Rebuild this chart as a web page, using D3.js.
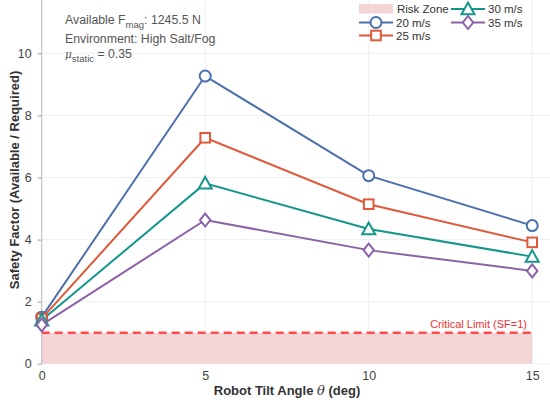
<!DOCTYPE html>
<html><head><meta charset="utf-8">
<script src="https://cdn.jsdelivr.net/npm/d3@7"></script>
<style>body{margin:0;background:#fff}svg{display:block;font-family:"Liberation Sans",Arial,sans-serif}</style>
</head><body>
<svg id="c" width="550" height="404"></svg>
<script>
const angles = [0, 5, 10, 15];
const speeds = ["20 m/s", "25 m/s", "30 m/s", "35 m/s"];
const sf20 = [1.50, 9.27, 6.06, 4.45];
const sf25 = [1.45, 7.28, 5.14, 3.91];
const sf30 = [1.40, 5.81, 4.34, 3.45];
const sf35 = [1.25, 4.63, 3.66, 2.99];
const yTicks = [0, 2, 4, 6, 8, 10];
const xTicks = [0, 5, 10, 15];
const criticalSF = 1;

const series = [
  {name: speeds[0], values: sf20, color: "#4C6FAE", marker: "circle"},
  {name: speeds[1], values: sf25, color: "#E0593B", marker: "square"},
  {name: speeds[2], values: sf30, color: "#15968A", marker: "triangle"},
  {name: speeds[3], values: sf35, color: "#8B62A8", marker: "diamond"}
];

const svg = d3.select("#c");
const x = d3.scaleLinear().domain([0, 15]).range([41.7, 532.2]);
const y = d3.scaleLinear().domain([0, 11.72]).range([363.7, 0]);
const xRight = 550;

// grid
svg.append("g").selectAll("line").data(yTicks).join("line")
  .attr("x1", x(0)).attr("x2", xRight).attr("y1", d => y(d)).attr("y2", d => y(d))
  .attr("stroke", "#ebebeb").attr("stroke-width", 0.8);
svg.append("g").selectAll("line").data(xTicks).join("line")
  .attr("x1", d => x(d)).attr("x2", d => x(d)).attr("y1", 0).attr("y2", y(0))
  .attr("stroke", "#ebebeb").attr("stroke-width", 0.8);

// risk zone
svg.append("rect").attr("x", x(0)).attr("y", y(criticalSF)).attr("width", x(15) - x(0))
  .attr("height", y(0) - y(criticalSF)).attr("fill", "#f3d5d6");

// critical line
svg.append("line").attr("x1", x(0)).attr("x2", x(15)).attr("y1", y(criticalSF)).attr("y2", y(criticalSF))
  .attr("stroke", "#ff4b4b").attr("stroke-width", 2.5).attr("stroke-dasharray", "8,5");
svg.append("text").attr("x", 527).attr("y", y(criticalSF) - 5).attr("text-anchor", "end")
  .attr("font-size", 11).attr("fill", "#ee3535").text("Critical Limit (SF=1)");

// left axis
const yAxis = d3.axisLeft(y).tickValues(yTicks).tickSize(4).tickPadding(6);
const ga = svg.append("g").attr("transform", `translate(${x(0)},0)`).call(yAxis);
ga.select(".domain").attr("stroke", "#bbb").attr("d", `M-0,0V${y(0)}`);
ga.selectAll(".tick line").attr("stroke", "#999");
ga.selectAll(".tick text").attr("font-size", 12.5).attr("fill", "#444").attr("font-family", "Liberation Sans, Arial, sans-serif");

const xAxis = d3.axisBottom(x).tickValues(xTicks).tickSize(0).tickPadding(7);
const gx = svg.append("g").attr("transform", `translate(0,${y(0)})`).call(xAxis);
gx.select(".domain").remove();
gx.selectAll(".tick text").attr("font-size", 12.5).attr("fill", "#444").attr("font-family", "Liberation Sans, Arial, sans-serif");

// axis labels
svg.append("text").attr("x", 287).attr("y", 395).attr("text-anchor", "middle")
  .attr("font-size", 13).attr("font-weight", "bold").attr("fill", "#333")
  .html('Robot Tilt Angle <tspan font-style="italic" font-weight="normal" font-family="DejaVu Serif">θ</tspan> (deg)');
svg.append("text").attr("transform", "translate(19,180) rotate(-90)").attr("text-anchor", "middle")
  .attr("font-size", 13).attr("font-weight", "bold").attr("fill", "#333")
  .text("Safety Factor (Available / Required)");

// marker drawing
function drawMarker(g, type, cx, cy, color) {
  const sw = 2;
  if (type === "circle") {
    g.append("circle").attr("cx", cx).attr("cy", cy).attr("r", 5.5)
      .attr("fill", "#fff").attr("stroke", color).attr("stroke-width", sw);
  } else if (type === "square") {
    g.append("rect").attr("x", cx - 4.8).attr("y", cy - 4.8).attr("width", 9.6).attr("height", 9.6)
      .attr("fill", "#fff").attr("stroke", color).attr("stroke-width", sw);
  } else if (type === "triangle") {
    const s = 6.5;
    g.append("path").attr("d", `M${cx},${cy - s}L${cx + s},${cy + s * 0.8}L${cx - s},${cy + s * 0.8}Z`)
      .attr("fill", "#fff").attr("stroke", color).attr("stroke-width", sw);
  } else {
    const s = 6.5;
    g.append("path").attr("d", `M${cx},${cy - s}L${cx + s * 0.8},${cy}L${cx},${cy + s}L${cx - s * 0.8},${cy}Z`)
      .attr("fill", "#fff").attr("stroke", color).attr("stroke-width", sw);
  }
}

const line = d3.line().x((d, i) => x(angles[i])).y(d => y(d));
series.forEach(s => {
  svg.append("path").attr("d", line(s.values)).attr("fill", "none")
    .attr("stroke", s.color).attr("stroke-width", 2);
});
series.forEach(s => {
  const g = svg.append("g");
  s.values.forEach((v, i) => drawMarker(g, s.marker, x(angles[i]), y(v), s.color));
});

// info text
const info = svg.append("g").attr("font-size", 12.3).attr("fill", "#555");
info.append("text").attr("x", 65).attr("y", 24)
  .html('Available F<tspan dy="4" font-size="9.5">mag</tspan><tspan dy="-4">: 1245.5 N</tspan>');
info.append("text").attr("x", 65).attr("y", 42.5).text("Environment: High Salt/Fog");
info.append("text").attr("x", 65).attr("y", 58)
  .html('<tspan font-style="italic" font-family="DejaVu Serif" font-size="10.5">μ</tspan><tspan dy="4" font-size="9.5">static</tspan><tspan dy="-4"> = 0.35</tspan>');

// legend
const leg = svg.append("g").attr("font-size", 11.5).attr("fill", "#333");
leg.append("rect").attr("x", 359).attr("y", 4).attr("width", 34).attr("height", 9.5).attr("fill", "#f3d5d6");
leg.append("text").attr("x", 397).attr("y", 13).text("Risk Zone");
const legPos = [[359, 22.5], [359, 35.5], [451, 9], [451, 22.5]];
series.forEach((s, i) => {
  const [lx, ly] = legPos[i];
  leg.append("line").attr("x1", lx).attr("x2", lx + 34).attr("y1", ly).attr("y2", ly)
    .attr("stroke", s.color).attr("stroke-width", 2);
  drawMarker(leg, s.marker, lx + 17, ly, s.color);
  leg.append("text").attr("x", lx + 37).attr("y", ly + 4.2).text(s.name);
});
</script>
</body></html>
